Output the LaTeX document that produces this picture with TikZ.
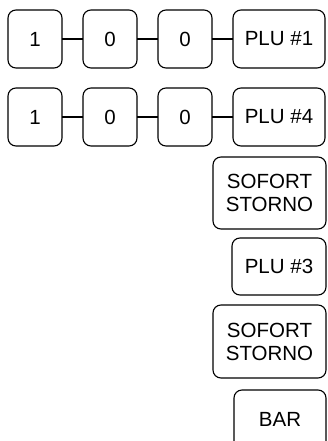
\documentclass[tikz,border=0pt]{standalone}
\usepackage{fontspec}
\setmainfont{Liberation Sans}
\usetikzlibrary{positioning}

\tikzset{
  key/.style={draw, line width=1.1pt, rounded corners=8pt, align=center,
    inner sep=0pt, outer sep=0pt, minimum height=58pt, minimum width=54pt,
    font=\fontsize{20.5}{23}\selectfont},
  wide/.style={key, minimum width=92pt},
  link/.style={line width=1.1pt}
}

\begin{document}
\begin{tikzpicture}[x=1pt,y=-1pt]
    \clip (0,0) rectangle (327,441);

    % Erste Zeile: 1 0 0 PLU #1
    \node[key] (a1) at (35,39) {1};
    \node[key] (a2) at (110,39) {0};
    \node[key] (a3) at (185,39) {0};
    \node[wide] (a4) at (279,39) {PLU \#1};
    \draw[link] (a1) -- (a2);
    \draw[link] (a2) -- (a3);
    \draw[link] (a3) -- (a4);

    % Zweite Zeile: 1 0 0 PLU #4
    \node[key] (b1) at (35,117) {1};
    \node[key] (b2) at (110,117) {0};
    \node[key] (b3) at (185,117) {0};
    \node[wide] (b4) at (279,117) {PLU \#4};
    \draw[link] (b1) -- (b2);
    \draw[link] (b2) -- (b3);
    \draw[link] (b3) -- (b4);

    % Einzeltasten rechts
    \node[key, minimum width=113pt, minimum height=72pt] (storno1) at (269.5,193) {SOFORT\\STORNO};
    \node[wide, minimum width=94pt, minimum height=57pt] (plu3) at (279,266.5) {PLU \#3};
    \node[key, minimum width=113pt, minimum height=73pt] (storno2) at (269.5,341.5) {SOFORT\\STORNO};
    \node[wide, minimum height=59pt] (bar) at (280,419.5) {BAR};
\end{tikzpicture}
\end{document}
